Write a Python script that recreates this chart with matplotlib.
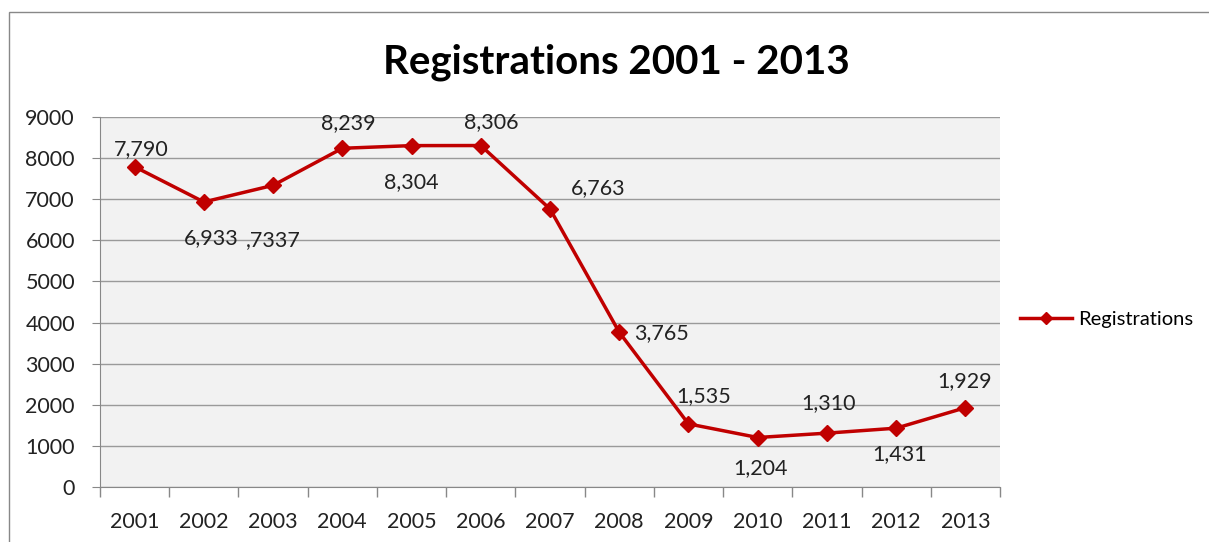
import matplotlib.pyplot as plt
from matplotlib.patches import Rectangle

years = ['2001', '2002', '2003', '2004', '2005', '2006', '2007',
         '2008', '2009', '2010', '2011', '2012', '2013']
registrations = [7790, 6933, 7337, 8239, 8304, 8306, 6763,
                 3765, 1535, 1204, 1310, 1431, 1929]
point_labels = ['7,790', '6,933', ',7337', '8,239', '8,304', '8,306', '6,763',
                '3,765', '1,535', '1,204', '1,310', '1,431', '1,929']
# label offsets in pixels (dx, dy) relative to each point
label_offsets = [(7, 18), (7, -36), (0, -55), (6, 25), (0, -36), (10, 23), (48, 21),
                 (42, -1), (15, 28), (3, -31), (2, 30), (3, -26), (-1, 27)]

plt.rcParams['font.family'] = ['Lato', 'DejaVu Sans']

fig = plt.figure(figsize=(12.09, 5.42), dpi=100)
fig.patches.append(Rectangle((9 / 1209, -0.1), 1.2, (542 - 12) / 542 + 0.1,
                             transform=fig.transFigure, fill=False,
                             edgecolor='#888888', lw=1))

ax = fig.add_axes([100 / 1209, 55 / 542, 900 / 1209, 370 / 542])
ax.set_facecolor('#f2f2f2')

x = list(range(len(years)))
line, = ax.plot(x, registrations, color='#c00000', lw=2.5, marker='D',
                markersize=8, label='Registrations', zorder=3)

for i, (lab, (dx, dy)) in enumerate(zip(point_labels, label_offsets)):
    ax.annotate(lab, (x[i], registrations[i]), xytext=(dx * 0.72, dy * 0.72),
                textcoords='offset points', ha='center', va='center',
                fontsize=15.5, color='#222222', zorder=4)

ax.set_xlim(-0.5, len(years) - 0.5)
ax.set_ylim(0, 9000)
ax.set_yticks(range(0, 9001, 1000))
ax.yaxis.grid(True, color='#9a9a9a', lw=1)
ax.set_axisbelow(True)

ax.set_xticks(x)
ax.set_xticklabels(years)
ax.set_xticks([i - 0.5 for i in range(len(years) + 1)], minor=True)
ax.tick_params(axis='x', which='major', length=0, pad=18, labelsize=15.5, colors='#222222')
ax.tick_params(axis='x', which='minor', length=7, color='#888888', width=1)
ax.tick_params(axis='y', length=6, color='#888888', labelsize=15.5, colors='#222222', pad=12)

for s in ['top', 'right']:
    ax.spines[s].set_visible(False)
for s in ['left', 'bottom']:
    ax.spines[s].set_color('#888888')

fig.text(616 / 1209, 1 - 62 / 542, 'Registrations 2001 - 2013', ha='center', va='center',
         fontsize=29, fontweight='bold', color='black')

fig.legend(handles=[line], loc='center left', bbox_to_anchor=(1002 / 1209, 1 - 319 / 542),
           frameon=False, fontsize=14.5, handlelength=2.6, handletextpad=0.3, markerscale=0.8)

fig.savefig('out.png', dpi=100)
